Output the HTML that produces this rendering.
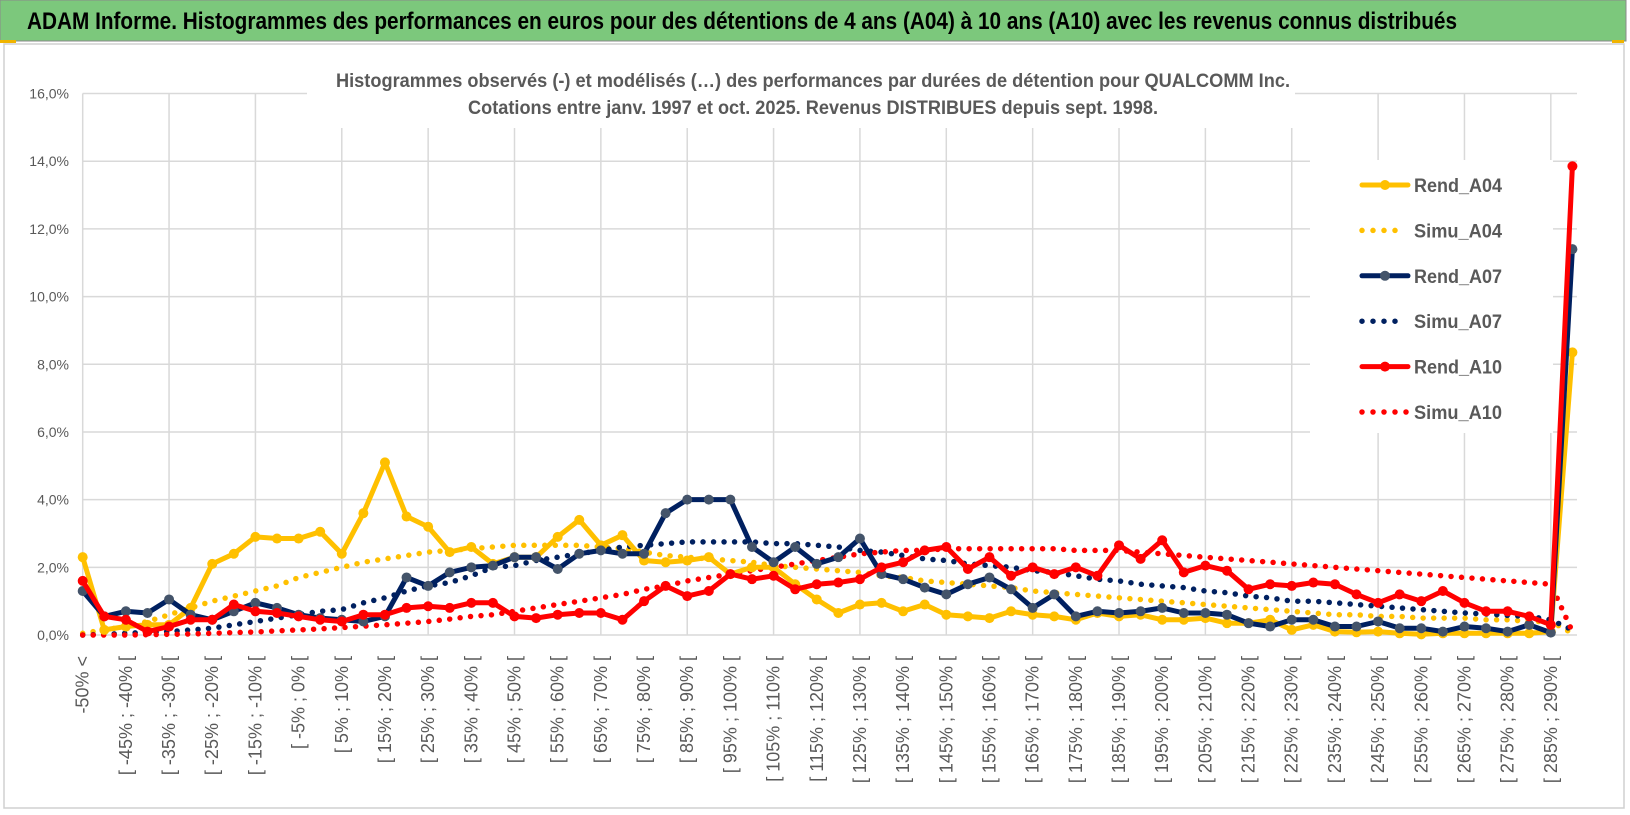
<!DOCTYPE html>
<html><head><meta charset="utf-8"><title>ADAM Informe QUALCOMM</title>
<style>
html,body{margin:0;padding:0;background:#fff;}
svg{display:block;font-family:"Liberation Sans",sans-serif;}
</style></head>
<body>
<svg id="chart" width="1630" height="815" viewBox="0 0 1630 815" xmlns="http://www.w3.org/2000/svg">
  <rect x="0" y="0" width="1630" height="815" fill="#ffffff"/>
  <rect x="0" y="0" width="1626" height="41" fill="#7cc87c" stroke="#8a8a8a" stroke-width="1"/>
  <rect x="0" y="40" width="16" height="3" fill="#f0b400"/>
  <rect x="1612" y="40" width="12" height="3" fill="#f0b400"/>
  <text x="27" y="29" font-size="24" font-weight="bold" fill="#000" textLength="1430" lengthAdjust="spacingAndGlyphs">ADAM Informe. Histogrammes des performances en euros pour des détentions de 4 ans (A04) à 10 ans (A10) avec les revenus connus distribués</text>
  <rect x="4" y="44" width="1620" height="764" fill="#fff" stroke="#d0d0d0" stroke-width="1.5"/>
  <g id="grid"></g>
  <g id="yticks"></g>
  <g id="xticks"></g>
  <g id="series"></g>
  <rect x="307" y="62" width="988" height="66" fill="#fff"/>
  <text x="813" y="87" font-size="19" font-weight="bold" fill="#595959" text-anchor="middle" textLength="954" lengthAdjust="spacingAndGlyphs">Histogrammes observés (-) et modélisés (…) des performances par durées de détention pour QUALCOMM Inc.</text>
  <text x="813" y="114" font-size="19" font-weight="bold" fill="#595959" text-anchor="middle" textLength="690" lengthAdjust="spacingAndGlyphs">Cotations entre janv. 1997 et oct. 2025. Revenus DISTRIBUES depuis sept. 1998.</text>
  <g id="legend"></g>
</svg>
<script>
const categories = [];
categories.push("-50% <");
for (let k = 1; k < 70; k++) { const a = -50 + 5 * (k - 1); categories.push("[ " + a + "% ; " + (a + 5) + "% ["); }
const yTicks = [0, 2, 4, 6, 8, 10, 12, 14, 16];
const yTickLabels = ["0,0%", "2,0%", "4,0%", "6,0%", "8,0%", "10,0%", "12,0%", "14,0%", "16,0%"];
const rendA04 = [2.3,0.15,0.25,0.3,0.3,0.8,2.1,2.4,2.9,2.85,2.85,3.05,2.4,3.6,5.1,3.5,3.2,2.45,2.6,2.1,2.3,2.3,2.9,3.4,2.65,2.95,2.2,2.15,2.2,2.3,1.8,2.0,2.0,1.5,1.05,0.65,0.9,0.95,0.7,0.9,0.6,0.55,0.5,0.7,0.6,0.55,0.45,0.65,0.55,0.6,0.45,0.45,0.5,0.35,0.35,0.45,0.15,0.3,0.1,0.08,0.1,0.05,0.02,0.05,0.05,0.05,0.05,0.05,0.1,8.35];
const simuA04 = [0.05,0.15,0.25,0.4,0.6,0.8,1.0,1.15,1.3,1.45,1.7,1.85,2.0,2.15,2.25,2.35,2.45,2.5,2.55,2.6,2.65,2.65,2.65,2.65,2.6,2.55,2.45,2.35,2.3,2.25,2.2,2.15,2.05,2.0,1.95,1.9,1.85,1.75,1.7,1.6,1.55,1.5,1.45,1.4,1.3,1.25,1.2,1.15,1.1,1.05,1.0,0.95,0.9,0.85,0.8,0.75,0.7,0.65,0.6,0.6,0.55,0.55,0.5,0.5,0.5,0.45,0.45,0.4,0.4,0.05];
const rendA07 = [1.3,0.55,0.7,0.65,1.05,0.6,0.45,0.7,0.95,0.8,0.6,0.5,0.45,0.4,0.55,1.7,1.45,1.85,2.0,2.05,2.3,2.3,1.95,2.4,2.5,2.4,2.4,3.6,4.0,4.0,4.0,2.6,2.15,2.6,2.1,2.3,2.85,1.8,1.65,1.4,1.2,1.5,1.7,1.35,0.8,1.2,0.55,0.7,0.65,0.7,0.8,0.65,0.65,0.6,0.35,0.25,0.45,0.45,0.25,0.25,0.4,0.2,0.2,0.1,0.25,0.2,0.1,0.3,0.07,11.4];
const simuA07 = [0,0.02,0.05,0.08,0.1,0.15,0.2,0.3,0.4,0.5,0.6,0.7,0.75,0.95,1.1,1.3,1.45,1.55,1.75,2.0,2.05,2.2,2.3,2.4,2.5,2.6,2.65,2.7,2.75,2.75,2.75,2.75,2.7,2.7,2.65,2.6,2.5,2.45,2.35,2.25,2.2,2.1,2.05,2.0,1.9,1.85,1.75,1.65,1.6,1.5,1.45,1.4,1.3,1.25,1.15,1.1,1.0,1.0,0.95,0.9,0.85,0.8,0.75,0.7,0.65,0.62,0.58,0.55,0.45,0.15];
const rendA10 = [1.6,0.55,0.45,0.1,0.25,0.45,0.45,0.9,0.7,0.65,0.55,0.45,0.4,0.6,0.6,0.8,0.85,0.8,0.95,0.95,0.55,0.5,0.6,0.65,0.65,0.45,1.0,1.45,1.15,1.3,1.8,1.65,1.75,1.35,1.5,1.55,1.65,2.0,2.15,2.5,2.6,1.95,2.3,1.75,2.0,1.8,2.0,1.75,2.65,2.25,2.8,1.85,2.05,1.9,1.35,1.5,1.45,1.55,1.5,1.2,0.95,1.2,1.0,1.3,0.95,0.7,0.7,0.55,0.3,13.85];
const simuA10 = [0,0,0,0.01,0.02,0.03,0.05,0.07,0.09,0.12,0.15,0.18,0.22,0.26,0.3,0.35,0.4,0.47,0.55,0.6,0.7,0.8,0.9,1.0,1.1,1.2,1.35,1.45,1.6,1.7,1.8,1.9,2.0,2.1,2.2,2.3,2.4,2.45,2.5,2.5,2.55,2.55,2.55,2.55,2.55,2.55,2.5,2.5,2.5,2.45,2.4,2.35,2.3,2.25,2.2,2.15,2.1,2.05,2.0,1.95,1.9,1.85,1.8,1.75,1.7,1.65,1.6,1.55,1.5,0.1];
const seriesNames = ["Rend_A04", "Simu_A04", "Rend_A07", "Simu_A07", "Rend_A10", "Simu_A10"];

const NS = "http://www.w3.org/2000/svg";
const X0 = 82.7, DX = 21.59, Y0 = 635, YTOP = 93.5, YMAX = 16;
function xScale(i) { return X0 + DX * i; }
function yScale(v) { return Y0 - (v / YMAX) * (Y0 - YTOP); }
function mk(tag, attrs, parent) { const e = document.createElementNS(NS, tag); for (const k in attrs) e.setAttribute(k, attrs[k]); parent.appendChild(e); return e; }

const grid = document.getElementById("grid");
const plotRight = 1577;
yTicks.forEach(function (t) {
  const l = mk("line", { x1: X0, x2: plotRight, y1: yScale(t), y2: yScale(t), stroke: "#d9d9d9", "stroke-width": 1.5 }, grid);
  
  
});
for (let i = 0; i < categories.length; i += 4) {
  const l = mk("line", { x1: xScale(i), x2: xScale(i), y1: yScale(YMAX), y2: Y0, stroke: "#d9d9d9", "stroke-width": 1.5 }, grid);
  
  
}

const yg = document.getElementById("yticks");
yTicks.forEach(function (t, k) {
  const tx = mk("text", { x: 69, y: yScale(t) + 5, "font-size": 14, fill: "#595959", "text-anchor": "end" }, yg);
  tx.textContent = yTickLabels[k];
  
  
});

const xg = document.getElementById("xticks");
for (let i = 0; i < categories.length; i += 2) {
  const x = xScale(i) + 6, y = 656;
  const tx = mk("text", { x: x, y: y, "font-size": 18, fill: "#595959", "text-anchor": "end", transform: "rotate(-90 " + x + " " + y + ")" }, xg);
  tx.textContent = categories[i];
  
  
}

const sg = document.getElementById("series");
function pts(arr) { return arr.map(function (v, i) { return xScale(i).toFixed(1) + "," + yScale(v).toFixed(1); }).join(" "); }
function dotted(arr, color, name) {
  const p = mk("polyline", { points: pts(arr), fill: "none", stroke: color, "stroke-width": 5.5, "stroke-linecap": "round", "stroke-dasharray": "0 10.5" }, sg);
  
  
}
function solid(arr, color, mcolor, name) {
  const g = mk("g", {}, sg);
  
  
  const p = mk("polyline", { points: pts(arr), fill: "none", stroke: color, "stroke-width": 5, "stroke-linejoin": "round" }, g);
  
  
  arr.forEach(function (v, i) {
    const c = mk("circle", { cx: xScale(i), cy: yScale(v), r: 5, fill: mcolor }, g);
    
    
  });
}
dotted(simuA04, "#ffc000", "simu-a04-line");
dotted(simuA07, "#002060", "simu-a07-line");
dotted(simuA10, "#ff0000", "simu-a10-line");
solid(rendA04, "#ffc000", "#ffc000", "rend-a04");
solid(rendA07, "#002060", "#44546a", "rend-a07");
solid(rendA10, "#ff0000", "#ff0000", "rend-a10");

const lg = document.getElementById("legend");
const lbg = mk("rect", { x: 1310, y: 160, width: 243, height: 273, fill: "#fff" }, lg);


const legColors = ["#ffc000", "#ffc000", "#002060", "#002060", "#ff0000", "#ff0000"];
const legMarkers = ["#ffc000", null, "#44546a", null, "#ff0000", null];
seriesNames.forEach(function (n, k) {
  const y = 185 + k * 45.4;
  const g = mk("g", {}, lg);
  
  
  if (legMarkers[k]) {
    mk("line", { x1: 1362, x2: 1408, y1: y, y2: y, stroke: legColors[k], "stroke-width": 5, "stroke-linecap": "round" }, g);
    mk("circle", { cx: 1385, cy: y, r: 5, fill: legMarkers[k] }, g);
  } else {
    mk("line", { x1: 1362, x2: (k === 5 ? 1408 : 1398), y1: y, y2: y, stroke: legColors[k], "stroke-width": 5.5, "stroke-linecap": "round", "stroke-dasharray": "0 11" }, g);
  }
  const t = mk("text", { x: 1414, y: y + 7, "font-size": 19, "font-weight": "bold", fill: "#595959", textLength: 88, lengthAdjust: "spacingAndGlyphs" }, g);
  t.textContent = n;
  
  
});
</script>
</body></html>
